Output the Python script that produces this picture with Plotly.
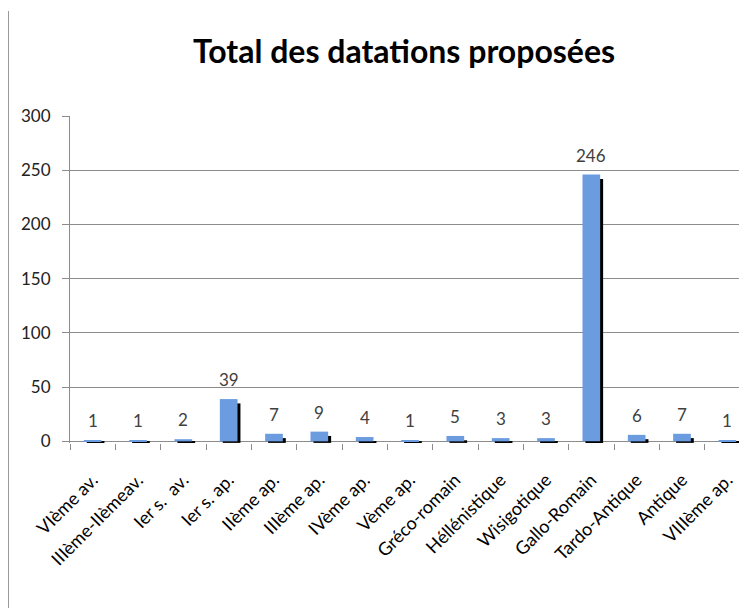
import plotly.graph_objects as go

# données
categories = ['VIème av.', 'IIIème-IIèmeav.', 'Ier s.  av.', 'Ier s. ap.', 'IIème ap.',
              'IIIème ap.', 'IVème ap.', 'Vème ap.', 'Gréco-romain', 'Héllénistique',
              'Wisigotique', 'Gallo-Romain', 'Tardo-Antique', 'Antique', 'VIIIème ap.']
valeurs = [1, 1, 2, 39, 7, 9, 4, 1, 5, 3, 3, 246, 6, 7, 1]

police = 'Lato'
gris = '#8c8c8c'

# ombre portée (style Excel) : décalée à droite et un peu plus basse
ombre = [max(v - 2.6, 1.2) for v in valeurs]

fig = go.Figure()
fig.add_trace(go.Bar(x=categories, y=ombre, base=-1.4, offset=-0.13, width=0.39,
                     marker=dict(color='#000000', line=dict(width=0)),
                     hoverinfo='skip', showlegend=False))
fig.add_trace(go.Bar(x=categories, y=valeurs, offset=-0.195, width=0.39,
                     marker=dict(color='#6c9ce0', line=dict(width=0)),
                     showlegend=False))

# étiquettes de valeurs au-dessus des barres
for c, v in zip(categories, valeurs):
    fig.add_annotation(x=c, y=v, text=str(v), showarrow=False, yanchor='bottom',
                       yshift=7, font=dict(family=police, size=17, color='#404040'))

# cadre gauche du graphique
fig.add_shape(type='line', xref='paper', yref='paper', x0=-61.5/680, x1=-61.5/680,
              y0=-173/327, y1=(435 - 3)/327, line=dict(color='#9a9a9a', width=1))

# la page ajoute une marge de 8 px : tout est décalé de 8 px vers le haut et la gauche
fig.update_layout(
    width=747, height=608,
    margin=dict(l=62, r=5, t=108, b=173),
    paper_bgcolor='white', plot_bgcolor='white',
    barmode='overlay',
    title=dict(text='<b>Total des datations proposées</b>', x=396/747, xref='container',
               xanchor='center', y=1 - 44/608, yref='container', yanchor='middle',
               font=dict(family=police, size=32, color='#000000')),
    xaxis=dict(type='category', range=[-0.5, 14.5], showline=False, showgrid=False,
               automargin=False,
               ticks='outside', tickson='boundaries', ticklen=6, tickcolor=gris,
               tickangle=-45, ticklabelstandoff=22,
               tickfont=dict(family=police, size=18, color='#000000')),
    yaxis=dict(range=[-1.5, 300], tickvals=[0, 50, 100, 150, 200, 250, 300],
               automargin=False,
               showgrid=True, gridcolor=gris, gridwidth=1,
               zeroline=True, zerolinecolor=gris, zerolinewidth=1,
               showline=True, linecolor=gris, ticks='outside', ticklen=7, tickcolor=gris,
               ticklabelstandoff=8,
               tickfont=dict(family=police, size=17, color='#222222')),
)

fig.write_html("out.html")
